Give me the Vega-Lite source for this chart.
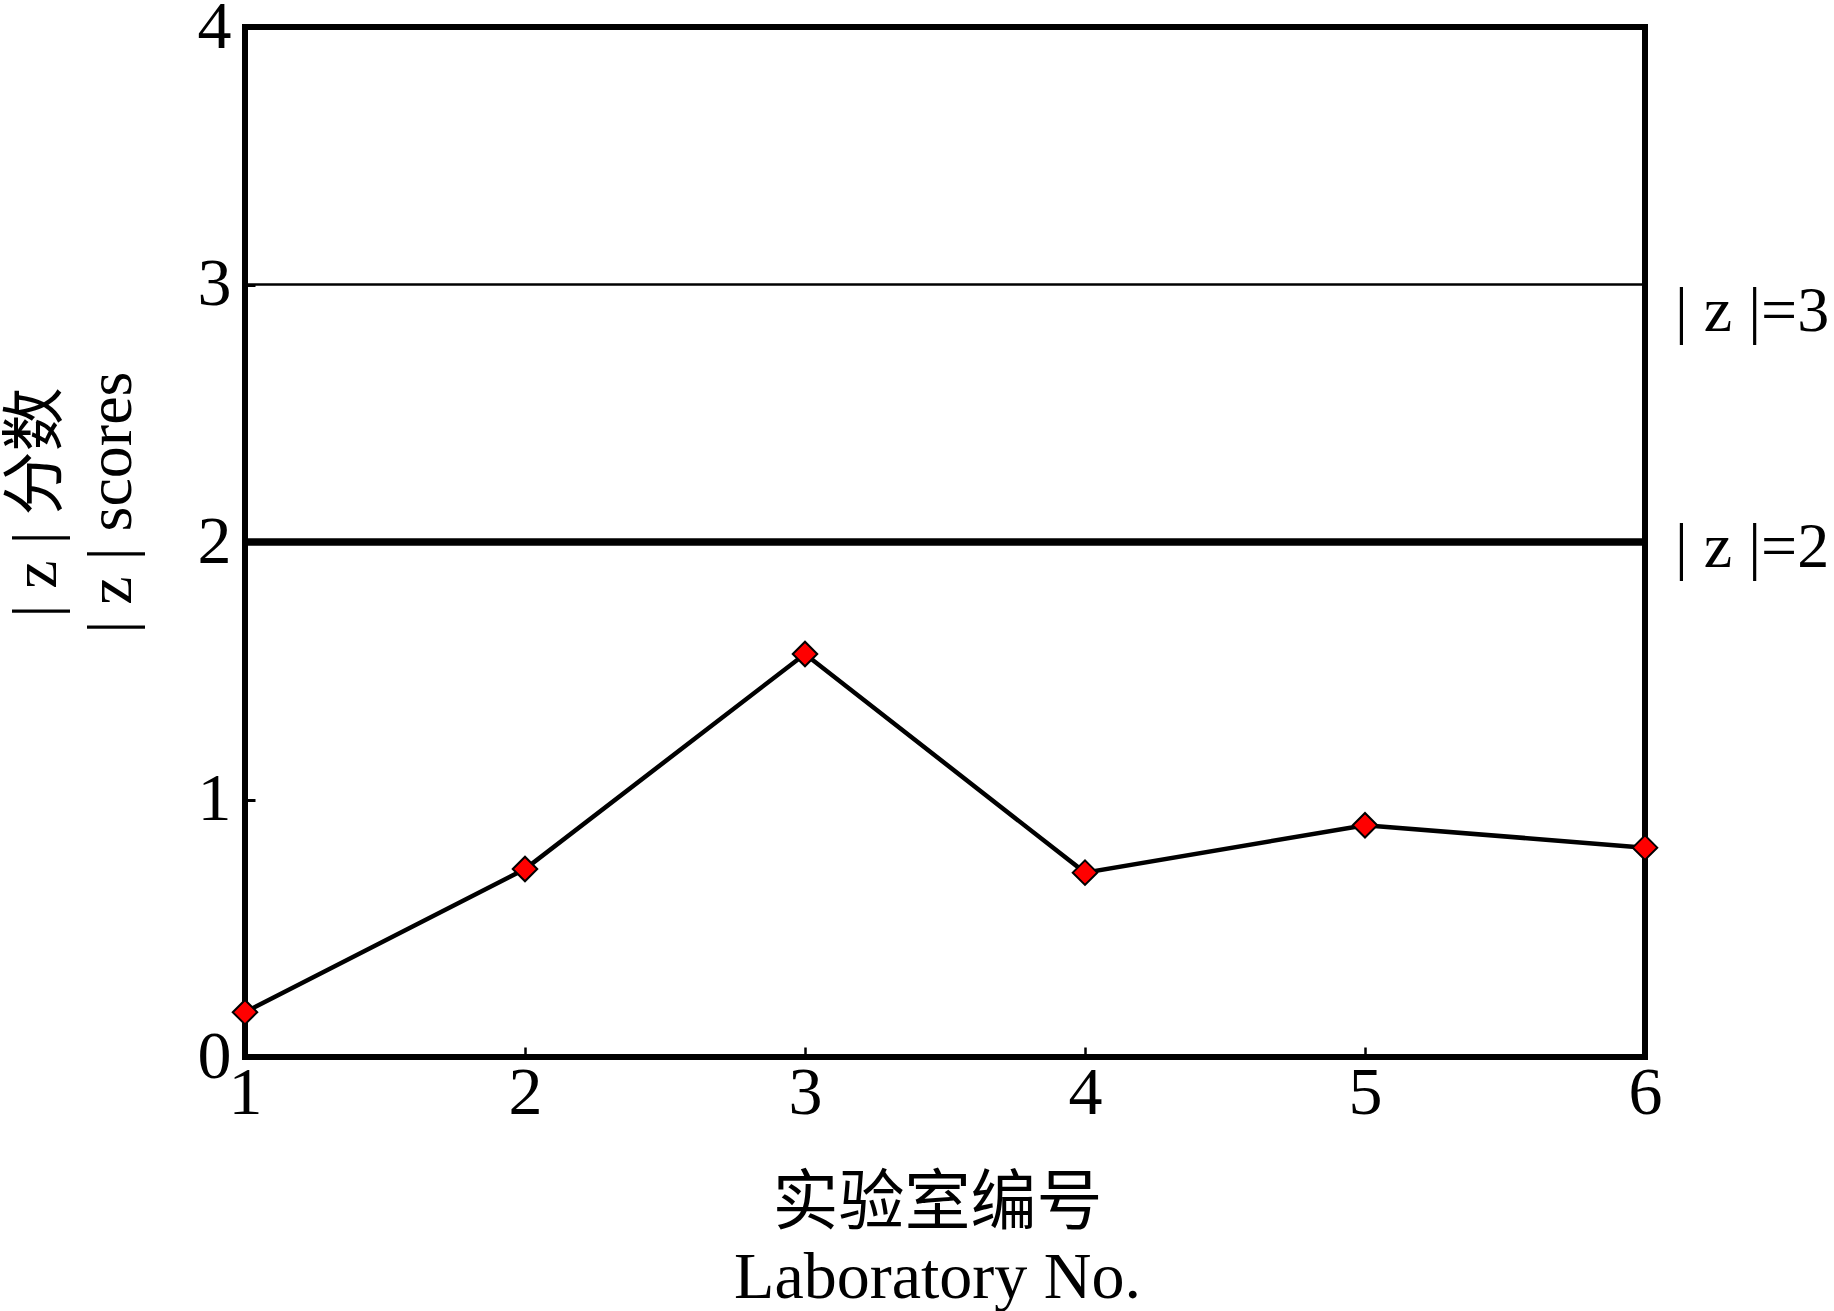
{
  "$schema": "https://vega.github.io/schema/vega-lite/v6.json",
  "autosize": {"type": "none"},
  "width": 1400,
  "height": 1030,
  "padding": {"left": 245, "top": 27, "right": 189, "bottom": 254},
  "background": "white",
  "config": {
    "view": {"stroke": "black", "strokeWidth": 6},
    "font": "Liberation Serif"
  },
  "datasets": {
    "scores": [
      {"lab": 1, "z": 0.174},
      {"lab": 2, "z": 0.73},
      {"lab": 3, "z": 1.565},
      {"lab": 4, "z": 0.716},
      {"lab": 5, "z": 0.9},
      {"lab": 6, "z": 0.813}
    ],
    "limits": [
      {"z": 3, "label": "| z |=3", "ly": 2.893},
      {"z": 2, "label": "| z |=2", "ly": 1.977}
    ]
  },
  "layer": [
    {
      "data": {"name": "limits"},
      "transform": [{"filter": "datum.z == 3"}],
      "mark": {"type": "rule", "color": "black", "strokeWidth": 2.5},
      "encoding": {
        "y": {"field": "z", "type": "quantitative", "scale": {"domain": [0, 4]}}
      }
    },
    {
      "data": {"name": "limits"},
      "transform": [{"filter": "datum.z == 2"}],
      "mark": {"type": "rule", "color": "black", "strokeWidth": 7.5},
      "encoding": {
        "y": {"field": "z", "type": "quantitative"}
      }
    },
    {
      "data": {"name": "limits"},
      "mark": {"type": "text", "align": "left", "baseline": "middle", "dx": 30, "fontSize": 64, "font": "Liberation Serif", "color": "black", "clip": false},
      "encoding": {
        "x": {"datum": 6, "type": "quantitative"},
        "y": {"field": "ly", "type": "quantitative"},
        "text": {"field": "label"}
      }
    },
    {
      "data": {"name": "scores"},
      "mark": {"type": "line", "color": "black", "strokeWidth": 4.5},
      "encoding": {
        "x": {
          "field": "lab", "type": "quantitative",
          "scale": {"domain": [1, 6], "nice": false, "zero": false},
          "axis": {
            "values": [1, 2, 3, 4, 5, 6], "format": "d", "grid": false, "domain": false,
            "tickSize": -10, "tickWidth": 2.5, "tickColor": "black",
            "labelFontSize": 68, "labelFont": "Liberation Serif", "labelColor": "black",
            "labelPadding": 12, "labelFlush": false, "labelBaseline": "top",
            "title": ["实验室编号", "Laboratory No."],
            "titleFont": "Liberation Serif, Noto Sans CJK SC", "titleFontSize": 66, "titleFontWeight": "normal",
            "titleColor": "black", "titleLineHeight": 74,
            "titleX": 692, "titleY": 166, "titleBaseline": "alphabetic", "titleAlign": "center"
          }
        },
        "y": {
          "field": "z", "type": "quantitative",
          "scale": {"domain": [0, 4], "nice": false},
          "axis": {
            "values": [0, 1, 2, 3, 4], "format": "d", "grid": false, "domain": false,
            "tickSize": -10, "tickWidth": 3, "tickColor": "black",
            "labelFontSize": 68, "labelFont": "Liberation Serif", "labelColor": "black",
            "labelPadding": 24, "labelFlush": false,
            "title": ["| z | 分数", "| z | scores"],
            "titleFont": "Liberation Serif, Noto Sans CJK SC", "titleFontSize": 64, "titleFontWeight": "normal",
            "titleColor": "black", "titleLineHeight": 75, "titleAngle": -90,
            "titleX": -190, "titleY": 475, "titleBaseline": "alphabetic", "titleAlign": "center"
          }
        }
      }
    },
    {
      "data": {"name": "scores"},
      "mark": {"type": "point", "shape": "diamond", "filled": true, "fill": "#ff0000", "stroke": "black", "strokeWidth": 2, "size": 600, "opacity": 1, "clip": false},
      "encoding": {
        "x": {"field": "lab", "type": "quantitative"},
        "y": {"field": "z", "type": "quantitative"}
      }
    }
  ]
}
